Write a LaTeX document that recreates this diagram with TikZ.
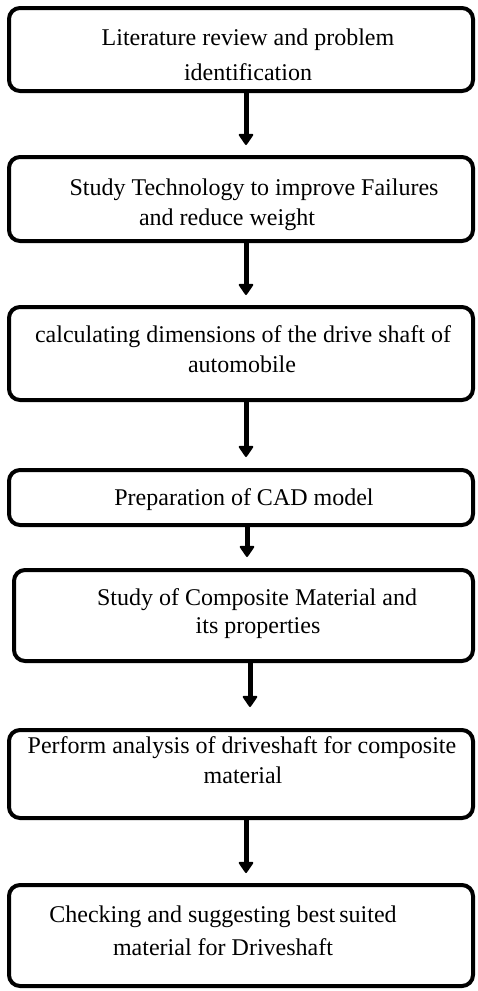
\documentclass[tikz,border=0pt]{standalone}
\usepackage{fontspec}
\setmainfont{Liberation Serif}
\usetikzlibrary{arrows.meta}
\begin{document}
\begin{tikzpicture}[x=1pt,y=1pt,
  stepbox/.style={draw, line width=4pt, rounded corners=11pt, inner sep=0pt, minimum width=464pt},
  txt/.style={anchor=base, inner sep=0pt, font=\fontsize{24}{28}\selectfont},
  arr/.style={line width=5pt, -{Triangle[width=16pt,length=12pt,line width=2pt,round]}}]
\useasboundingbox (0,0) rectangle (478,-991);
% boxes
\node[stepbox, minimum height=83pt] (b1) at (241,-49.5) {};
\node[stepbox, minimum height=84pt] (b2) at (241,-199) {};
\node[stepbox, minimum height=93pt] (b3) at (241,-353.5) {};
\node[stepbox, minimum height=55pt] (b4) at (241,-497.5) {};
\node[stepbox, minimum height=91pt, minimum width=459pt] (b5) at (243.5,-615.5) {};
\node[stepbox, minimum height=88pt] (b6) at (241,-774) {};
\node[stepbox, minimum height=101pt] (b7) at (241,-935.5) {};
% texts
\node[txt] (t1a) at (248,-45) {Literature review and problem};
\node[txt] (t1b) at (248,-80) {identification};
\node[txt] (t2a) at (254,-195) {Study Technology to improve Failures};
\node[txt] (t2b) at (227,-225) {and reduce weight};
\node[txt] (t3a) at (243,-342) {calculating dimensions of the drive shaft of};
\node[txt] (t3b) at (242,-372) {automobile};
\node[txt] (t4a) at (244,-505) {Preparation of CAD model};
\node[txt] (t5a) at (257,-605) {Study of Composite Material and};
\node[txt] (t5b) at (258,-633) {its properties};
\node[txt] (t6a) at (242,-753) {Perform analysis of driveshaft for composite};
\node[txt] (t6b) at (243,-783) {material};
\node[txt] (t7a) at (223,-922) {Checking and suggesting best\,suited};
\node[txt] (t7b) at (223,-955) {material for Driveshaft};
% arrows
\coordinate (e1) at (246,-145);
\coordinate (e2) at (246,-295);
\coordinate (e3) at (246,-457);
\coordinate (e4) at (247,-557);
\coordinate (e5) at (250,-707);
\coordinate (e6) at (246,-873);
\draw[arr] (b1.south -| e1) -- (e1);
\draw[arr] (b2.south -| e2) -- (e2);
\draw[arr] (b3.south -| e3) -- (e3);
\draw[arr] (b4.south -| e4) -- (e4);
\draw[arr] (b5.south -| e5) -- (e5);
\draw[arr] (b6.south -| e6) -- (e6);
\end{tikzpicture}
\end{document}
